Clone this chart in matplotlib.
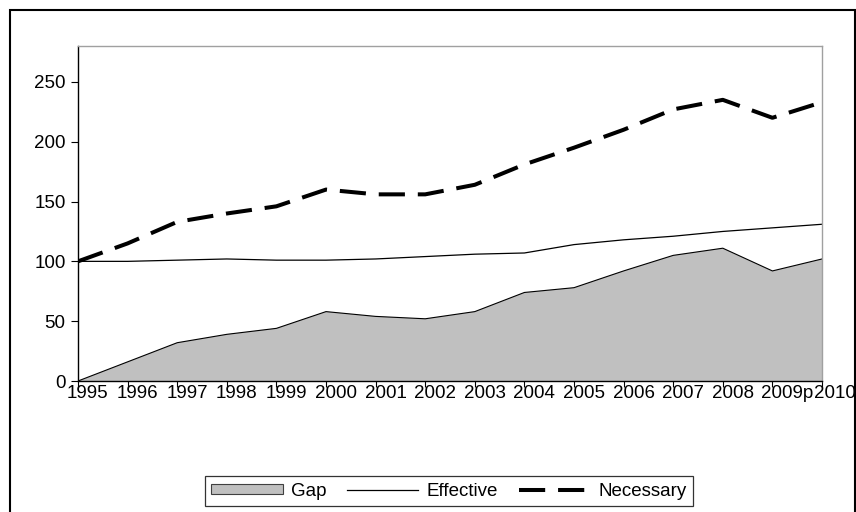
import matplotlib.pyplot as plt
from matplotlib.patches import Rectangle
from matplotlib.transforms import ScaledTranslation

plt.rcParams['font.family'] = ['Liberation Sans', 'DejaVu Sans']

years = ['1995', '1996', '1997', '1998', '1999', '2000', '2001', '2002',
         '2003', '2004', '2005', '2006', '2007', '2008', '2009p', '2010p']
gap = [0, 16, 32, 39, 44, 58, 54, 52, 58, 74, 78, 92, 105, 111, 92, 102]
effective = [100, 100, 101, 102, 101, 101, 102, 104, 106, 107, 114, 118, 121, 125, 128, 131]
necessary = [100, 115, 133, 140, 146, 160, 156, 156, 164, 181, 195, 210, 227, 235, 220, 233]

DASH_LW = 2.9
DASHES = (6.5, 3.2)

fig = plt.figure(figsize=(8.56, 5.12), dpi=100)
ax = fig.add_axes([78 / 856, 1 - 381 / 512, 744 / 856, 335 / 512])

x = list(range(len(years)))
ax.fill_between(x, 0, gap, facecolor='#c0c0c0', edgecolor='none', label='Gap')
ax.plot(x, gap, color='black', lw=0.8)
ax.plot(x, effective, color='black', lw=0.9, label='Effective')
ax.plot(x, necessary, color='black', lw=DASH_LW, dashes=DASHES, label='Necessary')

ax.set_xlim(0, len(years) - 1)
ax.set_ylim(0, 280)
ax.set_yticks([0, 50, 100, 150, 200, 250])
ax.set_xticks(x)
ax.set_xticklabels(years)
ax.tick_params(axis='y', direction='out', length=5, width=0.8, labelsize=13.5, pad=4)
ax.tick_params(axis='x', direction='out', length=4, width=0.8, labelsize=13.5, pad=-1)

# year labels start just left of their tick; the last one is nudged right
labels = ax.get_xticklabels()
for i, lab in enumerate(labels):
    dx = -8 if i == len(labels) - 1 else -11
    lab.set_ha('left')
    lab.set_transform(lab.get_transform() + ScaledTranslation(dx / 100, 0, fig.dpi_scale_trans))

for s in ['left', 'bottom']:
    ax.spines[s].set_color('black')
    ax.spines[s].set_linewidth(1.0)
for s in ['top', 'right']:
    ax.spines[s].set_color('#a0a0a0')
    ax.spines[s].set_linewidth(1.0)

# outer frame of the chart area
fig.patches.append(Rectangle((10 / 856, -0.05), 845 / 856, 1 - 10 / 512 + 0.05,
                             transform=fig.transFigure, fill=False,
                             edgecolor='black', lw=1.5))

handles = [Rectangle((0, 0), 1, 1, facecolor='#c0c0c0', edgecolor='#404040', lw=0.8),
           plt.Line2D([], [], color='black', lw=0.9),
           plt.Line2D([], [], color='black', lw=DASH_LW, dashes=DASHES)]
leg = fig.legend(handles, ['Gap', 'Effective', 'Necessary'], ncol=3,
                 loc='center', bbox_to_anchor=(449 / 856, 1 - 491 / 512),
                 fontsize=13.5, frameon=True, fancybox=False, handlelength=3.8,
                 handleheight=0.45, handletextpad=0.45, columnspacing=1.1,
                 borderpad=0.35, borderaxespad=0)
leg.get_frame().set_edgecolor('black')
leg.get_frame().set_linewidth(0.9)

fig.savefig('out.png', dpi=100)
